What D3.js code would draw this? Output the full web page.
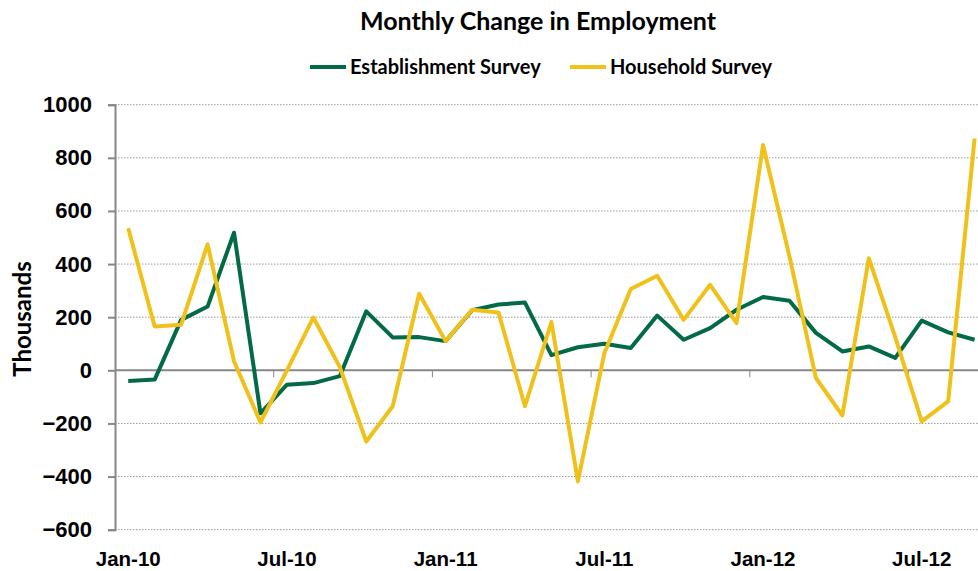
<!DOCTYPE html>
<html>
<head>
<meta charset="utf-8">
<script src="https://cdn.jsdelivr.net/npm/d3@7"></script>
<style>
  body { margin: 0; background: #fff; }
  #chart svg { display: block; font-family: Lato, "Open Sans", sans-serif; }
</style>
</head>
<body>
<div id="chart"></div>
<script>
// monthly change, thousands
var months = ["Jan-10","Feb-10","Mar-10","Apr-10","May-10","Jun-10","Jul-10","Aug-10","Sep-10","Oct-10","Nov-10","Dec-10",
              "Jan-11","Feb-11","Mar-11","Apr-11","May-11","Jun-11","Jul-11","Aug-11","Sep-11","Oct-11","Nov-11","Dec-11",
              "Jan-12","Feb-12","Mar-12","Apr-12","May-12","Jun-12","Jul-12","Aug-12","Sep-12"];
var establishment = [-40, -35, 190, 240, 518, -162, -54, -48, -22, 222, 124, 125,
                     110, 226, 248, 255, 57, 87, 100, 84, 206, 115, 159, 228,
                     276, 262, 141, 71, 90, 47, 187, 143, 115];
var household = [535, 165, 172, 474, 34, -196, 0, 199, 12, -268, -135, 288,
                 110, 228, 218, -135, 182, -418, 64, 306, 356, 190, 322, 178,
                 848, 429, -29, -170, 422, 125, -192, -117, 873];
var yTicks = [-600, -400, -200, 0, 200, 400, 600, 800, 1000];
var xLabels = ["Jan-10","Jul-10","Jan-11","Jul-11","Jan-12","Jul-12"];

var width = 978, height = 571;
var margin = {top: 104.7, left: 115, bottom: 529.7};
var bw = 26.45;

var svg = d3.select("#chart").append("svg")
  .attr("width", width)
  .attr("height", height);

var x = d3.scaleBand()
  .domain(months)
  .range([margin.left, margin.left + months.length * bw])
  .padding(0);

var y = d3.scaleLinear()
  .domain([-600, 1000])
  .range([margin.bottom, margin.top]);

var green = "#036a46", yellow = "#f0c11a", axisGray = "#878787";

// gridlines
svg.append("g").selectAll("line")
  .data(yTicks.filter(function(d) { return d !== 0; }))
  .enter().append("line")
  .attr("x1", margin.left)
  .attr("x2", width)
  .attr("y1", function(d) { return y(d); })
  .attr("y2", function(d) { return y(d); })
  .attr("stroke", "#9a9a9a")
  .attr("stroke-width", 1)
  .attr("stroke-dasharray", "1.5,1.5");

// y axis
var yAxis = d3.axisLeft(y).tickValues(yTicks).tickSize(7).tickPadding(16).tickFormat(d3.format("d"));
var gy = svg.append("g")
  .attr("transform", "translate(" + margin.left + ",0)")
  .call(yAxis);
gy.select(".domain").attr("stroke", axisGray).attr("stroke-width", 2);
gy.selectAll(".tick line").attr("stroke", axisGray).attr("stroke-width", 2);
gy.selectAll(".tick text")
  .attr("fill", "#000")
  .style("font-size", "22px")
  .style("font-weight", "bold");

// zero line with category ticks
var boundaries = d3.range(6, months.length, 6).map(function(i) { return margin.left + i * bw; });
svg.append("line")
  .attr("x1", margin.left)
  .attr("x2", width)
  .attr("y1", y(0))
  .attr("y2", y(0))
  .attr("stroke", axisGray)
  .attr("stroke-width", 2);
svg.append("g").selectAll("line")
  .data(boundaries)
  .enter().append("line")
  .attr("x1", function(d) { return d; })
  .attr("x2", function(d) { return d; })
  .attr("y1", y(0))
  .attr("y2", y(0) + 7)
  .attr("stroke", axisGray)
  .attr("stroke-width", 1);

// x labels at the bottom
var xAxis = d3.axisBottom(x).tickValues(xLabels).tickSize(0).tickPadding(0);
var gx = svg.append("g")
  .attr("transform", "translate(0,566)")
  .call(xAxis);
gx.select(".domain").remove();
gx.selectAll(".tick text")
  .attr("y", 0)
  .attr("dy", 0)
  .attr("fill", "#000")
  .style("font-size", "20.5px")
  .style("font-weight", "bold");

// lines
var line = d3.line()
  .x(function(d, i) { return x(months[i]) + x.bandwidth() / 2; })
  .y(function(d) { return y(d); });

svg.append("path")
  .datum(establishment)
  .attr("fill", "none")
  .attr("stroke", green)
  .attr("stroke-width", 4)
  .attr("stroke-linejoin", "round")
  .attr("d", line);

svg.append("path")
  .datum(household)
  .attr("fill", "none")
  .attr("stroke", yellow)
  .attr("stroke-width", 4)
  .attr("stroke-linejoin", "round")
  .attr("d", line);

// y label
svg.append("text")
  .attr("transform", "translate(31," + 319 + ") rotate(-90)")
  .attr("text-anchor", "middle")
  .style("font-size", "24px")
  .style("font-weight", "bold")
  .text("Thousands");

// title
svg.append("text")
  .attr("x", 538)
  .attr("y", 30)
  .attr("text-anchor", "middle")
  .style("font-size", "25px")
  .style("font-weight", "bold")
  .text("Monthly Change in Employment");

// legend
var legendItems = [
  {name: "Establishment Survey", color: green, x: 310},
  {name: "Household Survey", color: yellow, x: 570}
];
var legend = svg.selectAll(".legend")
  .data(legendItems)
  .enter().append("g")
  .attr("class", "legend")
  .attr("transform", function(d) { return "translate(" + d.x + ",67)"; });

legend.append("line")
  .attr("x1", 0)
  .attr("x2", 36)
  .attr("stroke", function(d) { return d.color; })
  .attr("stroke-width", 4);

legend.append("text")
  .attr("x", 40)
  .attr("dy", ".36em")
  .style("font-size", "20px")
  .style("font-weight", "bold")
  .text(function(d) { return d.name; });
</script>
</body>
</html>
